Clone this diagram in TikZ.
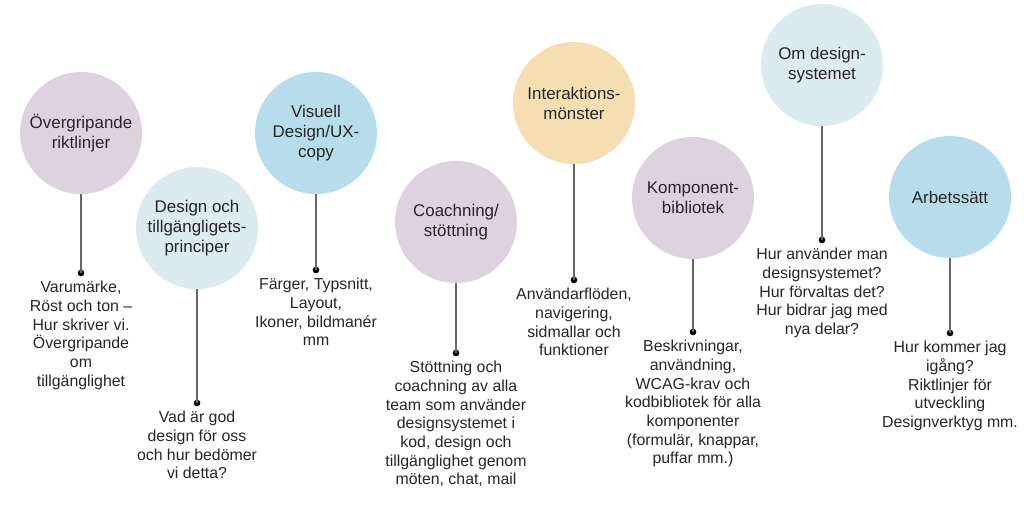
\documentclass[tikz,border=0pt]{standalone}
\usepackage{fontspec}
\setmainfont{Liberation Sans}
\definecolor{mauve}{HTML}{DDD3DE}
\definecolor{paleteal}{HTML}{DCEBEE}
\definecolor{skyblue}{HTML}{B7DDEC}
\definecolor{peach}{HTML}{F6DEB3}
\definecolor{stem}{HTML}{666666}
\tikzset{
  topic/.style={circle, minimum size=91.5pt, inner sep=0pt, align=center, font=\fontsize{12.7}{15}\selectfont, text=black!85},
  pin/.style={circle, fill=black, inner sep=0pt, minimum size=5pt},
  desc/.style={anchor=north, align=center, inner sep=0pt, font=\fontsize{11.9}{14}\selectfont, text=black!85},
  stemline/.style={draw=stem, line width=1.4pt}
}
\begin{document}
\begin{tikzpicture}[x=0.75pt, y=-0.75pt]
\useasboundingbox (0,0) rectangle (1024,515);
% circles
\node[topic, fill=mauve] (c1) at (81,133) {Övergripande\\riktlinjer};
\node[topic, fill=paleteal] (c2) at (197,228) {Design och\\tillgängligets-\\principer};
\node[topic, fill=skyblue] (c3) at (316,133) {Visuell\\Design/UX-\\copy};
\node[topic, fill=mauve] (c4) at (456,222) {Coachning/\\stöttning};
\node[topic, fill=peach] (c5) at (574,103) {Interaktions-\\mönster};
\node[topic, fill=mauve] (c6) at (693,198) {Komponent-\\bibliotek};
\node[topic, fill=paleteal] (c7) at (822,65) {Om design-\\systemet};
\node[topic, fill=skyblue] (c8) at (950,197) {Arbetssätt};
% pins
\node[pin] (d1) at (81,273) {};
\node[pin] (d2) at (197,403) {};
\node[pin] (d3) at (316,270) {};
\node[pin] (d4) at (456,353) {};
\node[pin] (d5) at (574,280) {};
\node[pin] (d6) at (693,332) {};
\node[pin] (d7) at (822,240) {};
\node[pin] (d8) at (950,333) {};
% stems
\foreach \i in {1,...,8} { \draw[stemline] (c\i.south) -- (d\i.center); }
% descriptions
\node[desc] (t1) at ([yshift=-6pt]d1.center) {Varumärke,\\Röst och ton –\\Hur skriver vi.\\Övergripande\\om\\tillgänglighet};
\node[desc] (t2) at ([yshift=-6pt]d2.center) {Vad är god\\design för oss\\och hur bedömer\\vi detta?};
\node[desc] (t3) at ([yshift=-6pt]d3.center) {Färger, Typsnitt,\\Layout,\\Ikoner, bildmanér\\mm};
\node[desc] (t4) at ([yshift=-6pt]d4.center) {Stöttning och\\coachning av alla\\team som använder\\designsystemet i\\kod, design och\\tillgänglighet genom\\möten, chat, mail};
\node[desc] (t5) at ([yshift=-6pt]d5.center) {Användarflöden,\\navigering,\\sidmallar och\\funktioner};
\node[desc] (t6) at ([yshift=-6pt]d6.center) {Beskrivningar,\\användning,\\WCAG-krav och\\kodbibliotek för alla\\komponenter\\(formulär, knappar,\\puffar mm.)};
\node[desc] (t7) at ([yshift=-6pt]d7.center) {Hur använder man\\designsystemet?\\Hur förvaltas det?\\Hur bidrar jag med\\nya delar?};
\node[desc] (t8) at ([yshift=-6pt]d8.center) {Hur kommer jag\\igång?\\Riktlinjer för\\utveckling\\Designverktyg mm.};
\end{tikzpicture}
\end{document}
